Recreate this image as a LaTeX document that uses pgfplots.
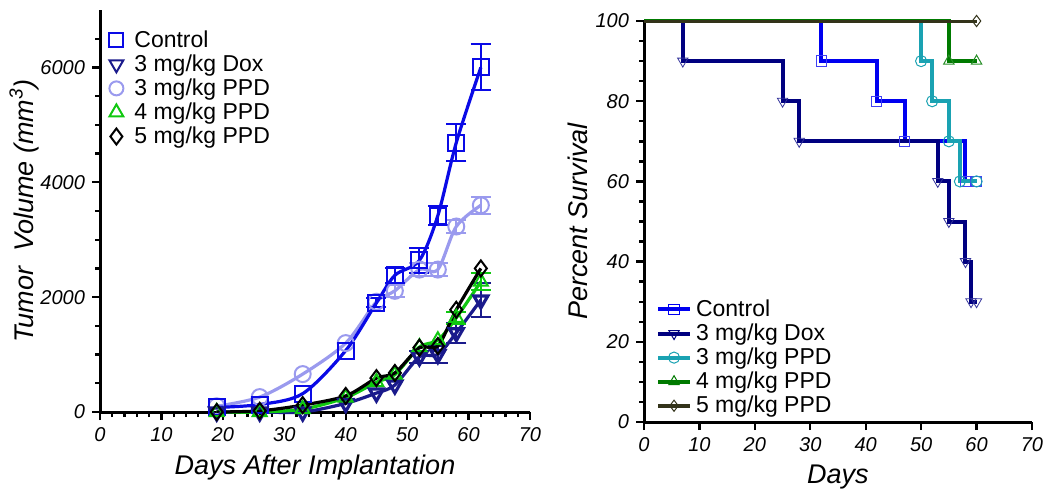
\documentclass[border=0pt]{standalone}
\usepackage{fontspec}
\setmainfont{Liberation Sans}
\usepackage{pgfplots}
\pgfplotsset{compat=1.18}

% left panel colours
\definecolor{ctrlL}{HTML}{0A0AE6}
\definecolor{doxL}{HTML}{1A1A8C}
\definecolor{ppdthreeL}{HTML}{9A9AEE}
\definecolor{ppdfourL}{HTML}{10C810}
\definecolor{ppdfiveL}{HTML}{000000}
% right panel colours
\definecolor{ctrlR}{HTML}{0000F0}
\definecolor{doxR}{HTML}{000080}
\definecolor{ppdthreeR}{HTML}{1AA2B2}
\definecolor{ppdfourR}{HTML}{007A00}
\definecolor{ppdfiveR}{HTML}{33331A}

\pgfplotsset{
  panel/.style={
    scale only axis,
    axis x line*=bottom, axis y line*=left,
    axis line style={line width=1.5pt},
    tick align=outside,
    major tick length=4pt, minor tick length=2.5pt,
    major tick style={black, line width=1.2pt},
    minor tick style={black, line width=1.2pt},
    ticklabel style={font=\fontsize{10}{12}\selectfont\itshape},
    /pgf/number format/assume math mode=true,
    /pgf/number format/set thousands separator={},
    scaled ticks=false,
    label style={font=\fontsize{13.5}{16}\selectfont\itshape},
    legend style={draw=none, fill=none, font=\fontsize{11.5}{13}\selectfont, row sep=-1.8pt},
    legend cell align=left,
    clip=false,
  },
  ebar/.style={draw=none, mark=none, forget plot,
    error bars/y dir=both, error bars/y explicit,
    error bars/error bar style={draw=#1, line width=1pt},
    error bars/error mark options={draw=#1, rotate=90, mark size=5pt, line width=1pt}},
  curve/.style={smooth, tension=0.5, line width=1.6pt, mark size=4pt,
    mark options={solid, line width=1pt}, forget plot},
  km/.style={const plot, line width=2pt, forget plot},
  kmmark/.style={only marks, mark size=2.8pt, mark options={line width=0.5pt}, forget plot},
}

\begin{document}
\begin{tikzpicture}
\useasboundingbox (0,0) rectangle (525pt,247.5pt);

% ---------------- tumour volume ----------------
\begin{axis}[panel,
  at={(50pt,41.5pt)}, anchor=south west,
  width=215pt, height=201pt,
  xmin=0, xmax=70, ymin=0, ymax=7000,
  xtick={0,10,...,70}, minor xtick={0,2,...,70},
  ytick={0,2000,4000,6000}, minor ytick={0,500,...,6500},
  xlabel={Days After Implantation},
  ylabel={Tumor\ \ Volume (mm\textsuperscript{3})},
  xlabel style={at={(axis description cs:0.5,0)}, anchor=center, yshift=-28pt},
  ylabel style={at={(axis description cs:0,0.5)}, anchor=center, yshift=38pt},
  legend style={at={(axis description cs:0,1)}, anchor=north west, xshift=1pt, yshift=-6pt},
  legend image code/.code={\path[draw=none] (0pt,0pt) -- (11pt,0pt); \draw[#1] plot coordinates {(4pt,0pt)};},
]
\addlegendimage{only marks, mark=square, ctrlL, mark size=3.5pt, line width=1pt}
\addlegendentry{Control}
\addlegendimage{only marks, mark=triangle, mark options={rotate=180}, doxL, mark size=4pt, line width=1pt}
\addlegendentry{3 mg/kg Dox}
\addlegendimage{only marks, mark=o, ppdthreeL, mark size=3.5pt, line width=1pt}
\addlegendentry{3 mg/kg PPD}
\addlegendimage{only marks, mark=triangle, ppdfourL, mark size=4pt, line width=1pt}
\addlegendentry{4 mg/kg PPD}
\addlegendimage{only marks, mark=diamond, ppdfiveL, mark size=4pt, line width=1pt}
\addlegendentry{5 mg/kg PPD}

% 3 mg/kg PPD
\addplot[curve, ppdthreeL, mark=o] coordinates {
  (19,100) (26,260) (33,660) (40,1200) (45,1920) (48,2110) (52,2480) (55,2480) (58,3230) (62,3600)};
\addplot[ebar=ppdthreeL] coordinates {
  (48,2110) +- (0,100) (52,2480) +- (0,110) (55,2480) +- (0,110) (58,3230) +- (0,110) (62,3600) +- (0,150)};
% Control
\addplot[curve, ctrlL, mark=square] coordinates {
  (19,80) (26,130) (33,320) (40,1070) (45,1900) (48,2380) (52,2640) (55,3420) (58,4690) (62,6000)};
\addplot[ebar=ctrlL] coordinates {
  (45,1900) +- (0,80) (48,2380) +- (0,130) (52,2640) +- (0,220) (55,3420) +- (0,170) (58,4690) +- (0,320) (62,6000) +- (0,400)};
% 3 mg/kg Dox
\addplot[curve, doxL, mark=triangle, mark options={rotate=180}] coordinates {
  (19,0) (26,0) (33,0) (40,150) (45,330) (48,470) (52,960) (55,1000) (58,1380) (62,1950)};
\addplot[ebar=doxL] coordinates {
  (52,960) +- (0,100) (55,1000) +- (0,150) (58,1380) +- (0,170) (62,1950) +- (0,300)};
% 4 mg/kg PPD
\addplot[curve, ppdfourL, mark=triangle] coordinates {
  (19,0) (26,0) (33,50) (40,250) (45,520) (48,650) (52,1130) (55,1250) (58,1640) (62,2270)};
\addplot[ebar=ppdfourL] coordinates {
  (58,1640) +- (0,100) (62,2270) +- (0,150)};
% 5 mg/kg PPD
\addplot[curve, ppdfiveL, mark=diamond] coordinates {
  (19,0) (26,20) (33,120) (40,280) (45,590) (48,680) (52,1120) (55,1150) (58,1780) (62,2500)};
\end{axis}

% ---------------- survival ----------------
\begin{axis}[panel,
  at={(322pt,36.5pt)}, anchor=south west,
  width=194pt, height=200.5pt,
  xmin=0, xmax=70, ymin=0, ymax=100,
  xtick={0,10,...,70},
  ytick={0,20,...,100}, minor ytick={0,5,...,100},
  xlabel={Days},
  ylabel={Percent Survival},
  xlabel style={at={(axis description cs:0.5,0)}, anchor=center, yshift=-27.5pt},
  ylabel style={at={(axis description cs:0,0.5)}, anchor=center, yshift=33pt},
  legend style={at={(axis description cs:0.03,0.02)}, anchor=south west, xshift=-3pt, yshift=-5pt},
  legend image code/.code={\draw[mark repeat=2, mark phase=2, #1]
    plot coordinates {(0pt,0pt) (8pt,0pt) (16pt,0pt)};},
]
\addlegendimage{ctrlR, line width=2pt, mark=square, mark size=2.6pt, mark options={line width=0.5pt}}
\addlegendentry{Control}
\addlegendimage{doxR, line width=2pt, mark=triangle, mark size=3pt, mark options={rotate=180, line width=0.5pt}}
\addlegendentry{3 mg/kg Dox}
\addlegendimage{ppdthreeR, line width=2pt, mark=o, mark size=2.8pt, mark options={line width=0.5pt}}
\addlegendentry{3 mg/kg PPD}
\addlegendimage{ppdfourR, line width=2pt, mark=triangle, mark size=3pt, mark options={line width=0.5pt}}
\addlegendentry{4 mg/kg PPD}
\addlegendimage{ppdfiveR, line width=2pt, mark=diamond, mark size=2.8pt, mark options={line width=0.5pt}}
\addlegendentry{5 mg/kg PPD}

% Control
\addplot[km, ctrlR] coordinates {(0,100) (32,90) (42,80) (47,70) (58,60) (60,60)};
\addplot[kmmark, mark=square, ctrlR!75!white, mark size=2.6pt] coordinates {(32,90) (42,80) (47,70) (58,60) (60,60)};
% 3 mg/kg Dox
\addplot[km, doxR] coordinates {(0,100) (7,90) (25,80) (28,70) (53,60) (55,50) (58,40) (59,30) (60,30)};
\addplot[kmmark, mark=triangle, mark options={rotate=180}, doxR!80!white, mark size=3pt] coordinates {
  (7,90) (25,80) (28,70) (53,60) (55,50) (58,40) (59,30) (60,30)};
% 3 mg/kg PPD
\addplot[km, ppdthreeR] coordinates {(0,100) (50,90) (52,80) (55,70) (57,60) (60,60)};
\addplot[kmmark, mark=o, ppdthreeR] coordinates {(50,90) (52,80) (55,70) (57,60) (60,60)};
% 4 mg/kg PPD
\addplot[km, ppdfourR] coordinates {(0,100) (55,90) (60,90)};
\addplot[kmmark, mark=triangle, ppdfourR!85!white, mark size=3pt] coordinates {(55,90) (60,90)};
% 5 mg/kg PPD
\addplot[km, ppdfiveR, line width=1.5pt] coordinates {(0,100) (60,100)};
\addplot[kmmark, mark=diamond, ppdfiveR] coordinates {(60,100)};
\end{axis}
\end{tikzpicture}
\end{document}
